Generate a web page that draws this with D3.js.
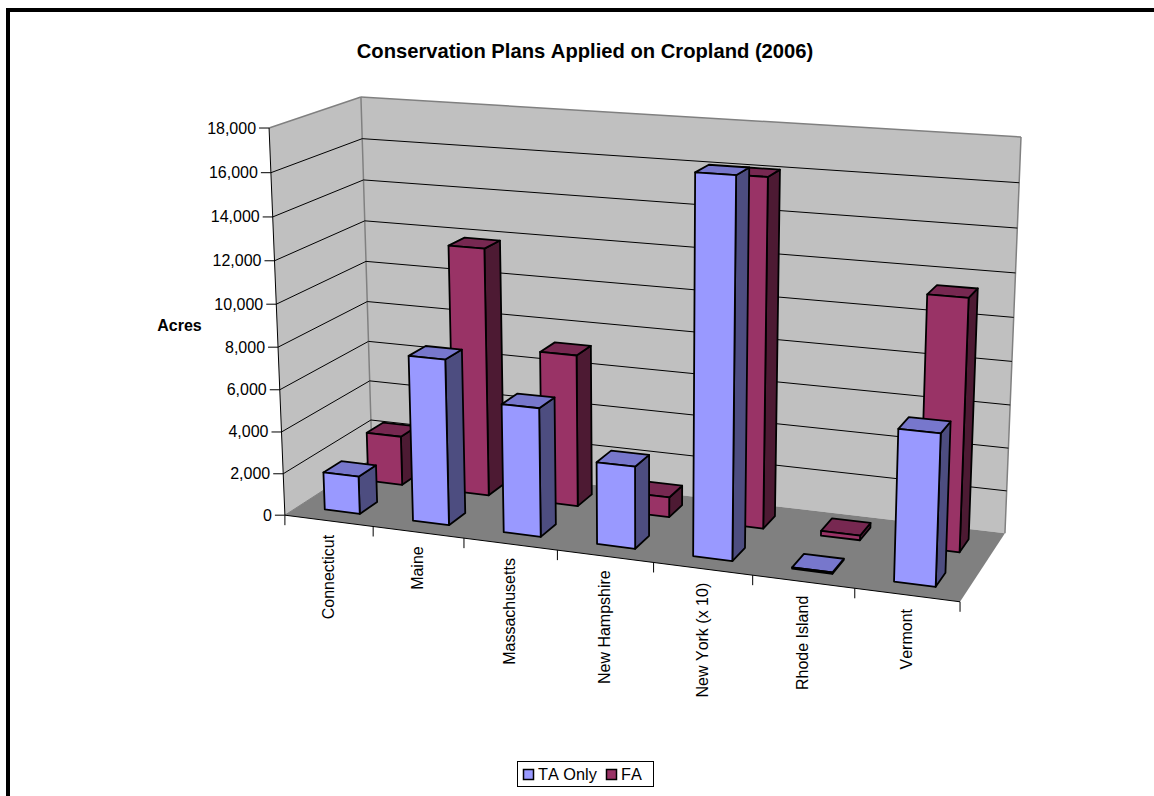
<!DOCTYPE html>
<html>
<head>
<meta charset="utf-8">
<script src="https://cdn.jsdelivr.net/npm/d3@7"></script>
<style>
html,body{margin:0;padding:0;background:#fff;}
svg{display:block;}
text{font-family:"Liberation Sans",Arial,sans-serif;fill:#000;font-kerning:none;}
</style>
</head>
<body>
<div id="chart"></div>
<script>
// Chart content
const categories = ["Connecticut","Maine","Massachusetts","New Hampshire","New York (x 10)","Rhode Island","Vermont"];
const taOnly = [1800,7800,6000,3800,17050,60,6770];
const fa = [2400,11900,7250,950,16140,220,11500];
const yTicks = [0,2000,4000,6000,8000,10000,12000,14000,16000,18000];
const seriesNames = ["TA Only","FA"];

const W = 1154, H = 796;
const yMax = 18000;

// Normalised box coordinates: x along categories, y up the value axis, z into the page
const xScale = d3.scaleBand().domain(categories).range([0,1]).paddingInner(0).paddingOuter(0);
const yScale = d3.scaleLinear().domain([0,yMax]).range([0,1]);
const zScale = d3.scaleBand().domain(seriesNames).range([0,1]);

// Screen positions of the plot box corners, used to fit the camera matrix
const boxCorners = [
  {b:[0,0,0], s:[285,515]},
  {b:[1,0,0], s:[960,602]},
  {b:[0,1,0], s:[269,128]},
  {b:[0,0,1], s:[372,459]},
  {b:[1,0,1], s:[1005,533]},
  {b:[0,1,1], s:[361,97]},
  {b:[1,1,1], s:[1021,137]}
];

// Least-squares fit of a 3x4 projective matrix (last entry fixed to 1)
function fitCamera(pts){
  const rows=[], rhs=[];
  pts.forEach(({b:[x,y,z],s:[u,v]})=>{
    rows.push([x,y,z,1,0,0,0,0,-u*x,-u*y,-u*z]); rhs.push(u);
    rows.push([0,0,0,0,x,y,z,1,-v*x,-v*y,-v*z]); rhs.push(v);
  });
  const n=11;
  const A=d3.range(n).map(i=>d3.range(n+1).map(j=>
    d3.sum(rows,(r,k)=>r[i]*(j<n?r[j]:rhs[k]))));
  for(let c=0;c<n;c++){
    let p=c;
    for(let r=c+1;r<n;r++) if(Math.abs(A[r][c])>Math.abs(A[p][c])) p=r;
    [A[c],A[p]]=[A[p],A[c]];
    for(let r=0;r<n;r++){
      if(r===c) continue;
      const f=A[r][c]/A[c][c];
      for(let j=c;j<=n;j++) A[r][j]-=f*A[c][j];
    }
  }
  return d3.range(n).map(i=>A[i][n]/A[i][i]);
}
const m = fitCamera(boxCorners);
function project(x,y,z){
  const w=m[8]*x+m[9]*y+m[10]*z+1;
  return [(m[0]*x+m[1]*y+m[2]*z+m[3])/w,(m[4]*x+m[5]*y+m[6]*z+m[7])/w];
}
const poly = pts => "M"+pts.map(p=>project(...p).map(v=>v.toFixed(2)).join(",")).join("L")+"Z";

const svg = d3.select("#chart").append("svg").attr("width",W).attr("height",H);

// Frame along the top and left of the page
svg.append("path").attr("d",`M8,${H}V10H${W}`)
  .attr("fill","none").attr("stroke","#000").attr("stroke-width",4);

svg.append("text").attr("x",585).attr("y",58).attr("text-anchor","middle")
  .attr("font-size",20.2).attr("font-weight","bold")
  .text("Conservation Plans Applied on Cropland (2006)");

// Walls and floor
const wallStroke = {stroke:"#808080","stroke-width":1.5};
svg.append("path").attr("d",poly([[0,0,0],[0,1,0],[0,1,1],[0,0,1]])).attr("fill","#c0c0c0");
svg.append("path").attr("d",poly([[0,0,1],[0,1,1],[1,1,1],[1,0,1]])).attr("fill","#c0c0c0");
svg.append("path").attr("d",poly([[0,0,0],[1,0,0],[1,0,1],[0,0,1]])).attr("fill","#808080");
const edge = (a,b)=>svg.append("path").attr("d",poly([a,b])).attr("fill","none")
  .attr("stroke",wallStroke.stroke).attr("stroke-width",wallStroke["stroke-width"]);
edge([0,1,0],[0,1,1]); edge([0,1,1],[1,1,1]); edge([0,1,1],[0,0,1]); edge([1,1,1],[1,0,1]);

// Gridlines on both walls
yTicks.filter(t=>t>0&&t<yMax).forEach(t=>{
  const y=yScale(t);
  svg.append("path").attr("d","M"+project(0,y,0)+"L"+project(0,y,1)+"L"+project(1,y,1))
    .attr("fill","none").attr("stroke","#000").attr("stroke-width",1);
});
svg.append("path").attr("d","M"+project(0,0,0)+"L"+project(0,0,1))
  .attr("fill","none").attr("stroke","#808080").attr("stroke-width",1);

// Value axis
svg.append("path").attr("d","M"+project(0,1,0)+"L"+project(0,0,0))
  .attr("fill","none").attr("stroke","#000").attr("stroke-width",1);
yTicks.forEach(t=>{
  const [px,py]=project(0,yScale(t),0);
  svg.append("line").attr("x1",px-10).attr("x2",px).attr("y1",py).attr("y2",py)
    .attr("stroke","#000").attr("stroke-width",1);
  svg.append("text").attr("x",px-13).attr("y",py+5.5).attr("text-anchor","end")
    .attr("font-size",16).text(d3.format(",")(t));
});
svg.append("text").attr("x",179.5).attr("y",331).attr("text-anchor","middle")
  .attr("font-size",16).attr("font-weight","bold").text("Acres");

// Category axis
svg.append("path").attr("d","M"+project(0,0,0)+"L"+project(1,0,0))
  .attr("fill","none").attr("stroke","#000").attr("stroke-width",1);
const catEdges = categories.map(c=>xScale(c)).concat([1]);
catEdges.forEach(x=>{
  const [px,py]=project(x,0,0);
  svg.append("line").attr("x1",px).attr("x2",px).attr("y1",py).attr("y2",py+10)
    .attr("stroke","#000").attr("stroke-width",1);
});
categories.forEach(c=>{
  const x=xScale(c)+xScale.bandwidth()/2;
  const [px,py]=project(x,0,0);
  svg.append("text").attr("transform",`translate(${px+5},${py+14}) rotate(-90)`)
    .attr("text-anchor","end").attr("font-size",16).text(c);
});

// Columns: back row first, then front row, each left to right
const seriesStyle = [
  {values:taOnly, front:"#9999ff", top:"#7777cc", side:"#4d4d80"},
  {values:fa, front:"#993366", top:"#772851", side:"#4d1a33"}
];
const barX = 0.4, barZ = 0.4;   // share of each band left for the column
[1,0].forEach(si=>{
  const st=seriesStyle[si], zb=zScale(seriesNames[si]), zw=zScale.bandwidth();
  const z0=zb+zw*(1-barZ)/2, z1=z0+zw*barZ;
  categories.forEach((c,i)=>{
    const bw=xScale.bandwidth();
    const x0=xScale(c)+bw*(1-barX)/2, x1=x0+bw*barX, y1=yScale(st.values[i]);
    const g=svg.append("g").attr("stroke","#000").attr("stroke-width",1.8).attr("stroke-linejoin","round");
    g.append("path").attr("fill",st.side).attr("d",poly([[x1,0,z0],[x1,0,z1],[x1,y1,z1],[x1,y1,z0]]));
    g.append("path").attr("fill",st.top).attr("d",poly([[x0,y1,z0],[x0,y1,z1],[x1,y1,z1],[x1,y1,z0]]));
    g.append("path").attr("fill",st.front).attr("d",poly([[x0,0,z0],[x1,0,z0],[x1,y1,z0],[x0,y1,z0]]));
  });
});

// Legend
const lg=svg.append("g");
lg.append("rect").attr("x",517.5).attr("y",761.5).attr("width",136).attr("height",25)
  .attr("fill","#fff").attr("stroke","#000").attr("stroke-width",1);
const legendX=[523,606], legendTextX=[538,621];
seriesNames.forEach((n,i)=>{
  lg.append("rect").attr("x",legendX[i]+.5).attr("y",769.5).attr("width",10).attr("height",10)
    .attr("fill",seriesStyle[i].front).attr("stroke","#000").attr("stroke-width",1.5);
  lg.append("text").attr("x",legendTextX[i]).attr("y",780).attr("font-size",16.3).text(n);
});
</script>
</body>
</html>
